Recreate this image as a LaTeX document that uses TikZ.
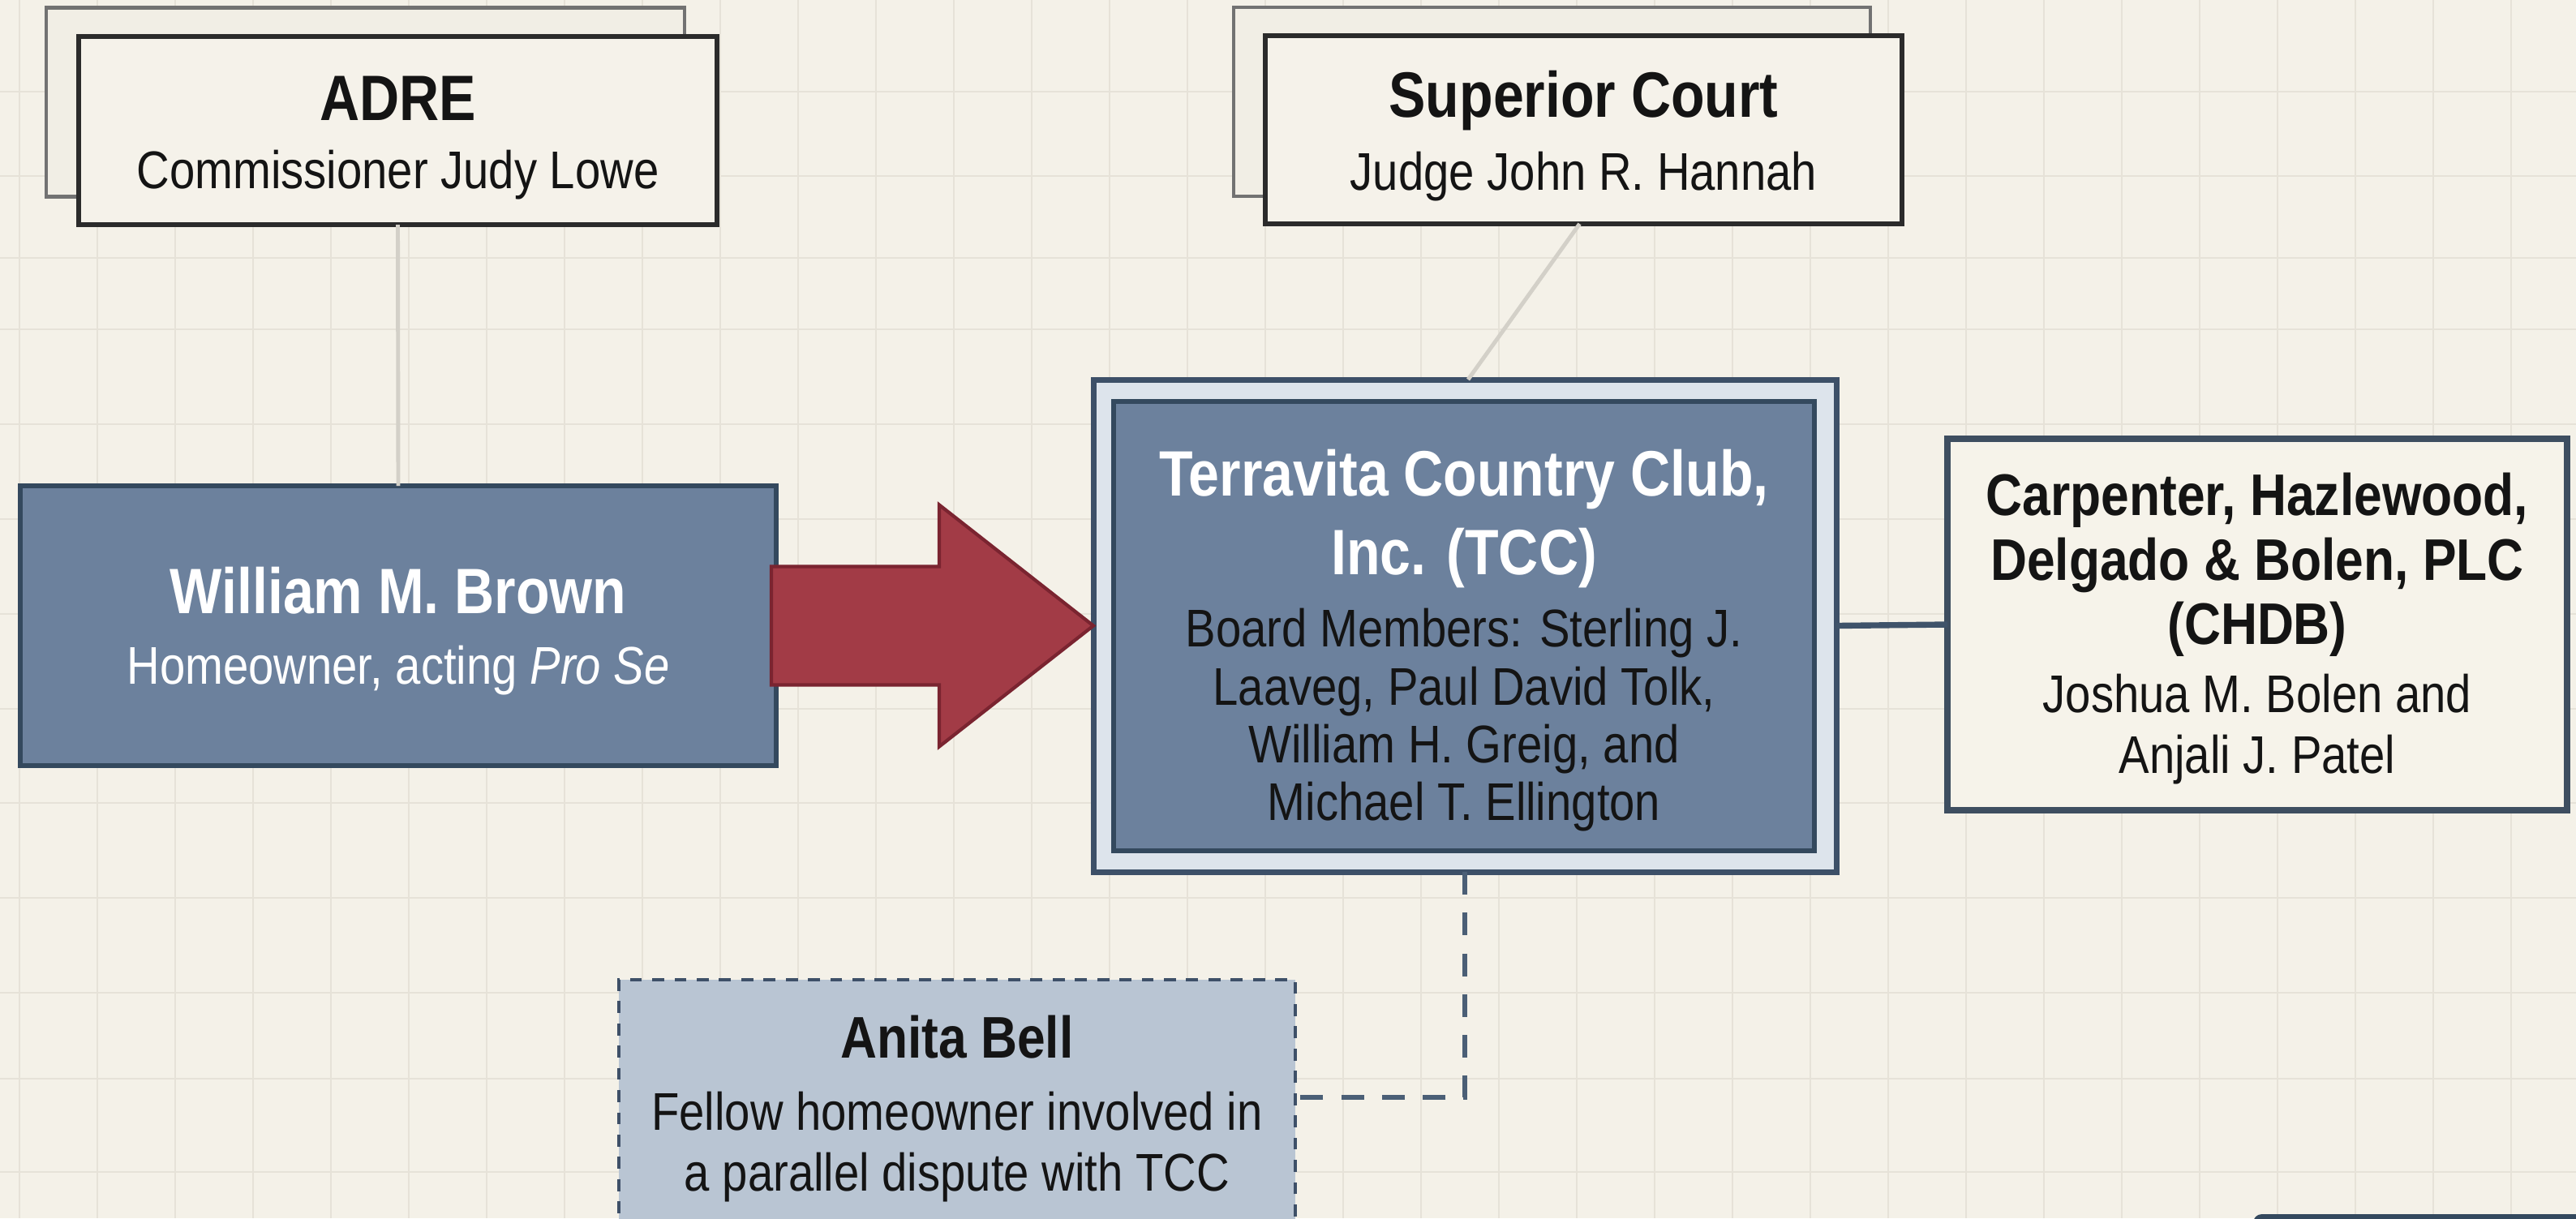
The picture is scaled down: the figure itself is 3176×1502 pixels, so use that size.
\documentclass[tikz,border=0pt]{standalone}
\usepackage{fontspec}
\setmainfont{Liberation Sans}[FakeStretch=0.86]
\usetikzlibrary{calc}
\definecolor{bgc}{HTML}{F4F1E8}
\definecolor{gridc}{HTML}{E6E2D8}
\definecolor{frontfill}{HTML}{F5F2EA}
\definecolor{frontdraw}{HTML}{2B2B2B}
\definecolor{backfill}{HTML}{F1EEE5}
\definecolor{backdraw}{HTML}{727272}
\definecolor{slatefill}{HTML}{6C819D}
\definecolor{slatedraw}{HTML}{34495E}
\definecolor{tccouter}{HTML}{DDE4EC}
\definecolor{tccdraw}{HTML}{3D5068}
\definecolor{redfill}{HTML}{A23B46}
\definecolor{reddraw}{HTML}{7A2430}
\definecolor{chdbfill}{HTML}{F6F3EA}
\definecolor{chdbdraw}{HTML}{3E4E60}
\definecolor{darkconn}{HTML}{3F536A}
\definecolor{lightconn}{HTML}{D3D0C8}
\definecolor{dashc}{HTML}{4B5F76}
\definecolor{anitafill}{HTML}{B9C5D3}
\definecolor{anitadraw}{HTML}{3E5068}
\definecolor{inktext}{HTML}{141414}
\newcommand\tsz[1]{\fontsize{#1}{#1}\selectfont\bfseries}
\newcommand\bsz[2]{\fontsize{#1}{#2}\selectfont}
\begin{document}
\begin{tikzpicture}[x=0.01cm,y=-0.01cm,
  sz/.style 2 args={minimum width=#1*0.01cm, minimum height=#2*0.01cm},
  boxbase/.style={rectangle, inner sep=0pt, outer sep=0pt},
  frontbox/.style={boxbase, draw=frontdraw, fill=frontfill, line width=1.7pt},
  backbox/.style={boxbase, draw=backdraw, fill=backfill, line width=1.2pt},
  slatebox/.style={boxbase, draw=slatedraw, fill=slatefill, line width=1.7pt},
  tccouterbox/.style={boxbase, draw=tccdraw, fill=tccouter, line width=2pt},
  chdbbox/.style={boxbase, draw=chdbdraw, fill=chdbfill, line width=2.2pt},
  anitabox/.style={boxbase, draw=anitadraw, fill=anitafill, line width=1.3pt, dash pattern=on 4.2pt off 3.6pt},
  txt/.style={align=center, inner sep=0pt, text=inktext},
  lightline/.style={draw=lightconn, line width=1.4pt},
  darkline/.style={draw=darkconn, line width=2.1pt},
  dashline/.style={draw=dashc, line width=1.5pt, dash pattern=on 8pt off 6.3pt},
  bigarrow/.style={fill=redfill, draw=reddraw, line width=1.2pt, line join=miter},
  gridline/.style={draw=gridc, line width=0.8pt}
]
\useasboundingbox (0,0) rectangle (3176,1502);
\clip (0,0) rectangle (3176,1502);
\fill[bgc] (0,0) rectangle (3176,1502);
% grid
\foreach \k in {0,...,32} {\draw[gridline] (24+96*\k,0) -- (24+96*\k,1502);}
\foreach \yy in {113,217,318,406,523,640,757,874,990,1107,1224,1330,1445} {\draw[gridline] (0,\yy) -- (3176,\yy);}

% top boxes
\node[backbox, sz={787}{233}] (adreback) at (450.5,126) {};
\node[frontbox, sz={787}{232}] (adre) at (490.5,161) {};
\node[backbox, sz={785}{233}] (supback) at (1913.5,125.5) {};
\node[frontbox, sz={785}{232}] (sup) at (1952.5,160) {};

% main boxes
\node[slatebox, sz={932}{345}] (wb) at (491,771.5) {};
\node[tccouterbox, sz={916}{607}] (tccout) at (1806,771.5) {};
\node[slatebox, line width=1.5pt, sz={864}{554}] (tcc) at (1805,772) {};
\node[chdbbox, sz={764}{458}] (chdb) at (2783,770) {};
\node[anitabox, sz={834}{308}] (anita) at (1180,1362) {};

% connectors
\draw[lightline] (adre.south) -- (wb.north);
\draw[lightline] ($(sup.south)+(-5,0)$) -- ($(tccout.north)+(4,0)$);
\draw[darkline] (tccout.east) -- (chdb.west);
\draw[dashline] (tccout.south) |- ([yshift=0.09cm]anita.east);
\draw[bigarrow] ($(wb.east)+(-6,-73)$) -- ($(tccout.west)+(-190,-73)$) -- ($(tccout.west)+(-190,-149)$) -- (tccout.west) -- ($(tccout.west)+(-190,149)$) -- ($(tccout.west)+(-190,73)$) -- ($(wb.east)+(-6,73)$) -- cycle;

% partial box at bottom right
\fill[slatedraw, rounded corners=3pt] (2778,1497) rectangle (3300,1700);

% texts
\node[txt, font=\bsz{18.6}{20.3}] (adret) at (490.5,170) {{\tsz{22.5}ADRE}\\[3.4pt]Commissioner Judy Lowe};
\node[txt, font=\bsz{18.6}{20.3}] (supt) at (1952.5,168) {{\tsz{22.5}Superior Court}\\[5.3pt]Judge John R. Hannah};
\node[txt, text=white, font=\bsz{18.6}{20.3}] (wbt) at (491,778) {{\tsz{22.5}William M. Brown}\\[4.4pt]Homeowner, acting \textit{Pro Se}};
\node[txt, font=\bsz{18.6}{20.3}] (tcct) at (1805,790) {{\color{white}\tsz{22.5}Terravita Country Club,}\\[5.6pt]{\color{white}\tsz{22.5}Inc. (TCC)}\\[5pt]Board Members: Sterling J.\\Laaveg, Paul David Tolk,\\William H. Greig, and\\Michael T. Ellington};
\node[txt, font=\bsz{18.6}{21.3}] (chdbt) at (2783,775) {{\tsz{20.6}Carpenter, Hazlewood,}\\[1.2pt]{\tsz{20.6}Delgado \& Bolen, PLC}\\[1.2pt]{\tsz{20.6}(CHDB)}\\[2.6pt]Joshua M. Bolen and\\Anjali J. Patel};
\node[txt, font=\bsz{18.6}{21.3}] (anitat) at (1180,1367) {{\tsz{20.6}Anita Bell}\\[4.2pt]Fellow homeowner involved in\\a parallel dispute with TCC};
\end{tikzpicture}
\end{document}
